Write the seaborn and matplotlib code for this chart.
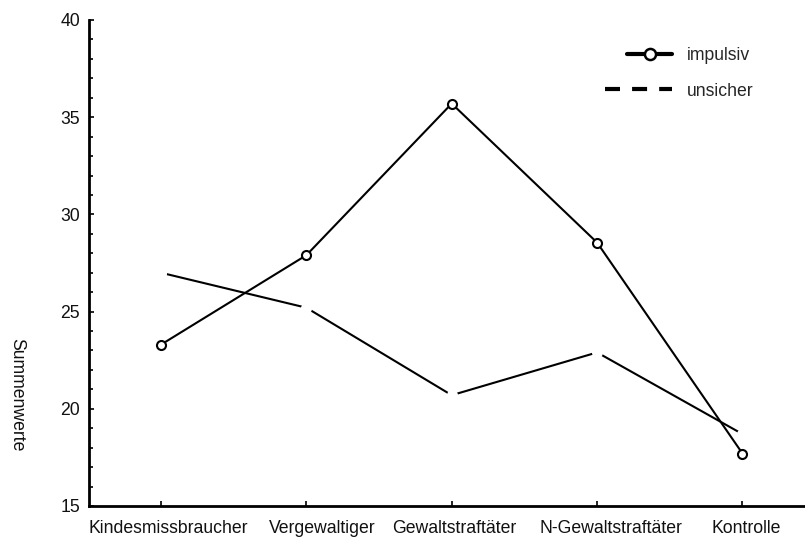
# === IMPORTS ===
import pandas as pd
import seaborn as sns
import matplotlib.pyplot as plt
import matplotlib.transforms as mtransforms
from matplotlib.lines import Line2D
from matplotlib.legend_handler import HandlerLine2D
from matplotlib.ticker import MultipleLocator

# === DATA ===
groups = ["Kindesmissbraucher", "Vergewaltiger", "Gewaltstraftäter",
          "N-Gewaltstraftäter", "Kontrolle"]
impulsiv = [23.3, 27.9, 35.7, 28.55, 17.7]
unsicher = [27.0, 25.2, 20.7, 22.9, 18.7]

df_imp = pd.DataFrame({"Gruppe": groups, "Summenwerte": impulsiv})
df_uns = pd.DataFrame({"Gruppe": groups, "Summenwerte": unsicher})

# === SETTINGS ===
sns.set_style("ticks")
plt.rcParams["font.family"] = ["Liberation Sans", "DejaVu Sans"]
FS = 12.7

fig = plt.figure(figsize=(8.05, 5.38), dpi=100)
ax = fig.add_axes([89 / 805, 32 / 538, 716 / 805, 486 / 538])

# unsicher: solid line broken by white (invisible) markers at each point
sns.lineplot(data=df_uns, x="Gruppe", y="Summenwerte", sort=False, ax=ax,
             color="black", linewidth=1.5, marker="o", markersize=8,
             markerfacecolor="white", markeredgewidth=0, zorder=2)

# impulsiv: solid line with open circles
sns.lineplot(data=df_imp, x="Gruppe", y="Summenwerte", sort=False, ax=ax,
             color="black", linewidth=1.5, marker="o", markersize=6.5,
             markerfacecolor="white", markeredgecolor="black",
             markeredgewidth=1.5, zorder=3)

# === AXES ===
ax.set_xlim(-0.495, 4.43)
ax.set_ylim(15, 40)
ax.yaxis.set_major_locator(MultipleLocator(5))
ax.yaxis.set_minor_locator(MultipleLocator(1))
ax.tick_params(axis="both", which="both", direction="in", color="black",
               labelsize=FS, labelcolor="#111111")
ax.tick_params(axis="y", which="major", length=3.5, width=1.2, pad=6.5)
ax.tick_params(axis="y", which="minor", length=3, width=1.2)
ax.tick_params(axis="x", which="major", length=3.5, width=1.2, pad=10)
sns.despine(ax=ax)
for side in ["left", "bottom"]:
    ax.spines[side].set_linewidth(2)
    ax.spines[side].set_color("black")

# the original labels sit a little right of their ticks
label_shift_px = [7, 16, 3, 14, 4]
for lab, dx in zip(ax.get_xticklabels(), label_shift_px):
    lab.set_transform(lab.get_transform() +
                      mtransforms.ScaledTranslation(dx / 100, 0, fig.dpi_scale_trans))

ax.set_xlabel("")
ax.set_ylabel("Summenwerte", rotation=270, fontsize=FS, color="#111111",
              ha="center", va="center")
ax.yaxis.set_label_coords(-0.1006, 0.23)


# === LEGEND ===
class ShortLineHandler(HandlerLine2D):
    # line only on the right part of the handle, marker in its middle
    def get_xdata(self, legend, xdescent, ydescent, width, height, fontsize):
        xdata = [-xdescent + 0.33 * width, width - xdescent]
        return xdata, [-xdescent + 0.665 * width]


h_imp = Line2D([], [], color="black", linewidth=3, marker="o", markersize=8,
               markerfacecolor="white", markeredgecolor="black",
               markeredgewidth=1.8)
h_uns = Line2D([], [], color="black", linewidth=3, linestyle=(0, (3.6, 2.9)))
ax.legend([h_imp, h_uns], ["impulsiv", "unsicher"], frameon=False,
          loc="upper left", bbox_to_anchor=(605 / 805, 1 - 47 / 538),
          bbox_transform=fig.transFigure, borderpad=0, borderaxespad=0,
          handlelength=3.8, handletextpad=0.85, labelspacing=1.05,
          numpoints=1, fontsize=FS,
          handler_map={h_imp: ShortLineHandler(numpoints=1)})

plt.savefig("out.png", dpi=100)
plt.close()
